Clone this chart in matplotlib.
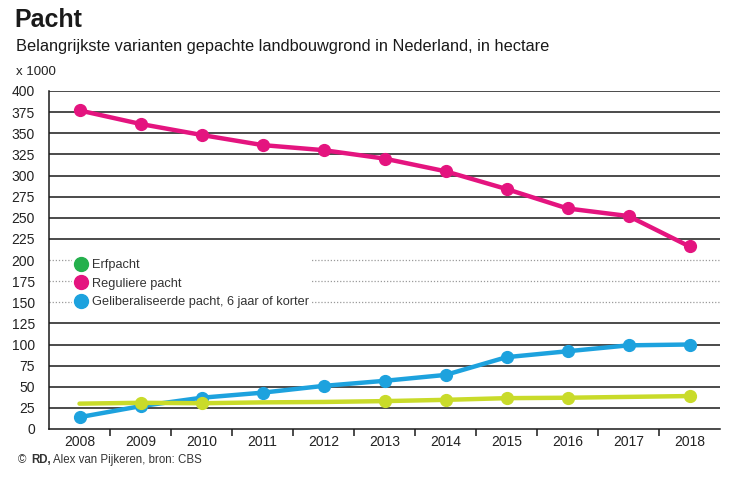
import matplotlib
matplotlib.use("Agg")
import matplotlib.pyplot as plt
from matplotlib.lines import Line2D

plt.rcParams['font.family'] = ['Liberation Sans', 'DejaVu Sans']

jaren = ['2008', '2009', '2010', '2011', '2012', '2013', '2014', '2015', '2016', '2017', '2018']
erfpacht = [30, 31, 30.5, 31.5, 32, 33, 34.5, 36.5, 37, 38, 39]
regulier = [377, 361, 348, 336, 330, 320, 305, 284, 261, 252, 216]
geliberaliseerd = [14, 27, 37, 43, 51, 57, 64, 85, 92, 99, 100]
y_ticks = list(range(0, 401, 25))

roze = '#e4147f'
blauw = '#1da2de'
geelgroen = '#c9db2a'
groen = '#25b04d'

fig = plt.figure(figsize=(7.52, 5.03), dpi=100)
ax = fig.add_axes([49/752, 74/503, 671/752, 338/503])

x = list(range(len(jaren)))

# rasterlijnen
for v in y_ticks[1:]:
    if v in (150, 175, 200):
        ax.axhline(v, color='#9a9a9a', lw=0.9, ls=(0, (1, 1.5)), zorder=1)
    else:
        ax.axhline(v, color='#1a1a1a', lw=1.1, zorder=1)

ax.plot(x, regulier, color=roze, lw=3.2, marker='o', ms=8.5, zorder=3, solid_capstyle='round')
ax.plot(x, geliberaliseerd, color=blauw, lw=3.2, marker='o', ms=8.5, zorder=3, solid_capstyle='round')
ax.plot(x, erfpacht, color=geelgroen, lw=3.2, marker='o', ms=8.5, zorder=4,
        markevery=[1, 2, 5, 6, 7, 8, 10], solid_capstyle='round')

ax.set_xlim(-0.5, len(jaren) - 0.5)
ax.set_ylim(0, 400)
ax.set_yticks(y_ticks)
ax.set_yticklabels([str(v) for v in y_ticks], fontsize=10, color='#222222')
ax.tick_params(axis='y', length=0, pad=10)
ax.set_xticks(x)
ax.set_xticklabels(jaren, fontsize=10, color='#222222')
ax.tick_params(axis='x', length=0, pad=4)
ax.set_xticks([i + 0.5 for i in x[:-1]], minor=True)
ax.tick_params(axis='x', which='minor', length=5, width=1.1, color='#1a1a1a', direction='out')

for s in ['top', 'right']:
    ax.spines[s].set_visible(False)
ax.spines['left'].set_color('#1a1a1a')
ax.spines['bottom'].set_color('#1a1a1a')
ax.spines['left'].set_linewidth(1.1)
ax.spines['bottom'].set_linewidth(1.1)

handles = [
    Line2D([], [], ls='none', marker='o', ms=10, color=groen),
    Line2D([], [], ls='none', marker='o', ms=10, color=roze),
    Line2D([], [], ls='none', marker='o', ms=10, color=blauw),
]
leg = ax.legend(handles, ['Erfpacht', 'Reguliere pacht', 'Geliberaliseerde pacht, 6 jaar of korter'],
                loc='upper left', bbox_to_anchor=(0.035, 0.508), fontsize=9.2,
                frameon=True, facecolor='white', edgecolor='none', framealpha=1,
                handletextpad=0.4, labelspacing=0.5, borderpad=0.15, handlelength=1.0,
                borderaxespad=0)
for t in leg.get_texts():
    t.set_color('#333333')
leg.set_zorder(2)

fig.text(14/752, 1 - 20/503, 'Pacht', fontsize=18, fontweight='bold', va='center', color='#1a1a1a')
fig.text(16/752, 1 - 47/503, 'Belangrijkste varianten gepachte landbouwgrond in Nederland, in hectare',
         fontsize=11.8, va='center', color='#1a1a1a')
fig.text(16/752, 1 - 72/503, 'x 1000', fontsize=9.5, va='center', color='#222222')
fig.text(18/752, 1 - 460/503, '©', fontsize=8.3, va='center', color='#333333')
fig.text(31/752, 1 - 460/503, 'RD,', fontsize=8.3, fontweight='bold', va='center', color='#333333')
fig.text(53/752, 1 - 460/503, 'Alex van Pijkeren, bron: CBS', fontsize=8.3, va='center', color='#333333')

fig.savefig('out.png', dpi=100)
